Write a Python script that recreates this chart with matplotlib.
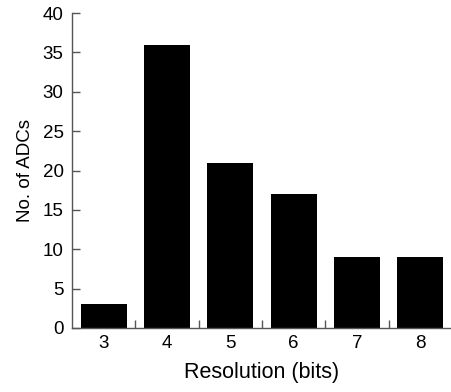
import numpy as np
import matplotlib
matplotlib.use('Agg')
import matplotlib.pyplot as plt

# values
resolution = [3, 4, 5, 6, 7, 8]
n_adcs = [3, 36, 21, 17, 9, 9]

plt.rcParams['font.family'] = ['Liberation Sans', 'DejaVu Sans']

fig = plt.figure(figsize=(4.51, 3.92), dpi=100)
ax = fig.add_axes([72 / 451, 64 / 392, 380 / 451, 315 / 392])

ax.bar(resolution, n_adcs, width=0.73, color='black')

ax.set_xlim(2.5, 8.5)
ax.set_ylim(0, 40)
ax.set_yticks(np.arange(0, 41, 5))
ax.set_xticks(resolution)
ax.set_xticks(np.arange(3.5, 8, 1), minor=True)

ax.spines['top'].set_visible(False)
ax.spines['right'].set_visible(False)
for s in ['left', 'bottom']:
    ax.spines[s].set_color('#555555')
    ax.spines[s].set_linewidth(1.0)

ax.tick_params(axis='y', direction='in', length=6, width=1, color='#555555',
               labelsize=13.5, pad=6)
ax.tick_params(axis='x', which='major', length=0, labelsize=13.5, pad=5)
ax.tick_params(axis='x', which='minor', direction='in', length=6, width=1,
               color='#555555')

ax.set_xlabel('Resolution (bits)', fontsize=15.5, labelpad=7)
ax.set_ylabel('No. of ADCs', fontsize=13.5, labelpad=6)

fig.savefig('out.png', dpi=100)
